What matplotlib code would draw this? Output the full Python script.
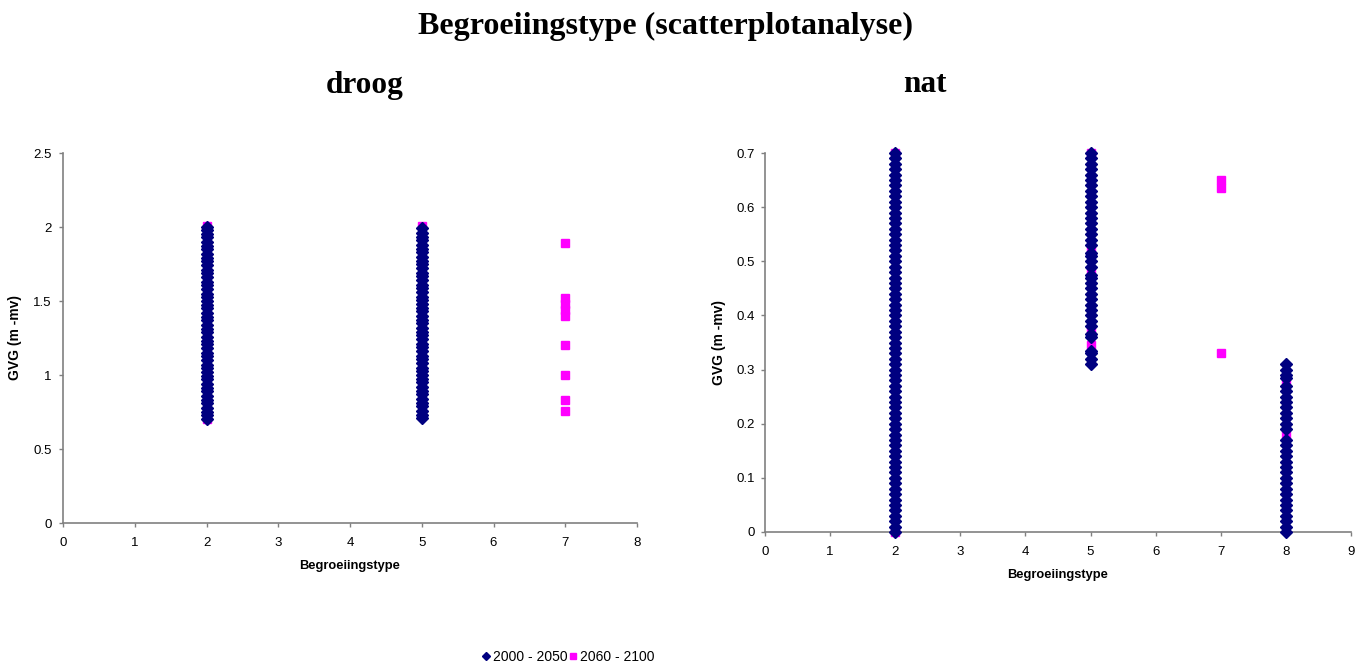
import matplotlib
matplotlib.use("Agg")
import matplotlib.pyplot as plt
from matplotlib.lines import Line2D

# ---------------- data ----------------
series_labels = ["2000 - 2050", "2060 - 2100"]

# droog (dry) - series 2000-2050, GVG values per begroeiingstype
droog_t2_early = [0.70, 0.73, 0.75, 0.78, 0.81, 0.83, 0.86, 0.89, 0.91, 0.94, 0.97, 0.99,
                  1.02, 1.05, 1.07, 1.10, 1.13, 1.15, 1.18, 1.21, 1.23, 1.26, 1.29, 1.31,
                  1.34, 1.37, 1.39, 1.42, 1.45, 1.47, 1.50, 1.53, 1.55, 1.58, 1.61, 1.63,
                  1.66, 1.69, 1.71, 1.74, 1.77, 1.79, 1.82, 1.85, 1.87, 1.90, 1.93, 1.95,
                  1.98, 2.00]
droog_t5_early = [0.71, 0.73, 0.76, 0.79, 0.81, 0.84, 0.87, 0.89, 0.92, 0.95, 0.97, 1.00,
                  1.03, 1.05, 1.08, 1.11, 1.13, 1.16, 1.19, 1.21, 1.24, 1.27, 1.29, 1.32,
                  1.35, 1.37, 1.40, 1.43, 1.45, 1.48, 1.51, 1.53, 1.56, 1.59, 1.61, 1.64,
                  1.67, 1.69, 1.72, 1.75, 1.77, 1.80, 1.83, 1.85, 1.88, 1.91, 1.93, 1.96,
                  1.99]
# droog - series 2060-2100
droog_late_type = [2, 2, 5, 7, 7, 7, 7, 7, 7, 7, 7, 7]
droog_late_gvg = [2.01, 0.70, 2.01, 1.89, 1.52, 1.48, 1.44, 1.40, 1.20, 1.00, 0.83, 0.76]

# nat (wet) - series 2000-2050
nat_t2_early = [0.00, 0.01, 0.02, 0.03, 0.04, 0.05, 0.06, 0.07, 0.08, 0.09, 0.10, 0.11,
                0.12, 0.13, 0.14, 0.15, 0.16, 0.17, 0.18, 0.19, 0.20, 0.21, 0.22, 0.23,
                0.24, 0.25, 0.26, 0.27, 0.28, 0.29, 0.30, 0.31, 0.32, 0.33, 0.34, 0.35,
                0.36, 0.37, 0.38, 0.39, 0.40, 0.41, 0.42, 0.43, 0.44, 0.45, 0.46, 0.47,
                0.48, 0.49, 0.50, 0.51, 0.52, 0.53, 0.54, 0.55, 0.56, 0.57, 0.58, 0.59,
                0.60, 0.61, 0.62, 0.63, 0.64, 0.65, 0.66, 0.67, 0.68, 0.69, 0.70]
nat_t5_early = [0.31, 0.32, 0.33, 0.335, 0.36, 0.365, 0.38, 0.39, 0.40, 0.41, 0.42, 0.43,
                0.44, 0.45, 0.46, 0.47, 0.475, 0.49, 0.50, 0.51, 0.515, 0.53, 0.54, 0.55,
                0.56, 0.57, 0.58, 0.59, 0.60, 0.61, 0.62, 0.63, 0.64, 0.65, 0.66, 0.67,
                0.68, 0.69, 0.70]
nat_t8_early = [0.00, 0.01, 0.02, 0.03, 0.04, 0.05, 0.06, 0.07, 0.08, 0.09, 0.10, 0.11,
                0.12, 0.13, 0.14, 0.15, 0.16, 0.17, 0.19, 0.20, 0.21, 0.22, 0.23, 0.24,
                0.25, 0.26, 0.27, 0.285, 0.29, 0.30, 0.31]
# nat - series 2060-2100
nat_late_type = [2, 2, 5, 5, 5, 5, 5, 7, 7, 7, 8, 8]
nat_late_gvg = [0.70, 0.00, 0.70, 0.525, 0.48, 0.375, 0.345, 0.65, 0.635, 0.33, 0.18, 0.28]

# ---------------- style ----------------
NAVY = "#000080"
MAGENTA = "#FF00FF"
AXCOL = "#808080"
SANS = ["Liberation Sans", "DejaVu Sans"]
SERIF = ["Liberation Serif", "DejaVu Serif"]

fig = plt.figure(figsize=(13.72, 6.70), dpi=100)

fig.text(665 / 1372, 1 - 26 / 670, "Begroeiingstype (scatterplotanalyse)", ha="center",
         va="center", fontsize=23, fontweight="bold", family=SERIF)
fig.text(365 / 1372, 1 - 85 / 670, "droog", ha="center", va="center",
         fontsize=22.5, fontweight="bold", family=SERIF)
fig.text(925 / 1372, 1 - 85 / 670, "nat", ha="center", va="center",
         fontsize=22.5, fontweight="bold", family=SERIF)

ax1 = fig.add_axes([63 / 1372, (670 - 523) / 670, (637 - 63) / 1372, (523 - 153) / 670])
ax2 = fig.add_axes([765 / 1372, (670 - 532) / 670, (1351 - 765) / 1372, (532 - 153) / 670])


def style(ax, xmax, ymax, yticks, ylabels, xlab_y, ypad):
    ax.set_xlim(0, xmax)
    ax.set_ylim(0, ymax)
    ax.set_xticks(range(0, xmax + 1))
    ax.set_yticks(yticks)
    ax.set_yticklabels(ylabels)
    for s in ["top", "right"]:
        ax.spines[s].set_visible(False)
    for s in ["left", "bottom"]:
        ax.spines[s].set_color(AXCOL)
        ax.spines[s].set_linewidth(1.2)
    ax.tick_params(direction="out", length=3, width=1, color=AXCOL, labelsize=9.5)
    ax.tick_params(axis="x", pad=7)
    ax.tick_params(axis="y", pad=ypad)
    for lab in ax.get_xticklabels() + ax.get_yticklabels():
        lab.set_family(SANS)
    ax.set_xlabel("Begroeiingstype", fontsize=9.3, fontweight="bold", family=SANS)
    ax.xaxis.set_label_coords(0.5, xlab_y)
    ax.set_ylabel("GVG (m -mv)", fontsize=10, fontweight="bold", family=SANS, labelpad=8)


# droog
ax1.plot(droog_late_type, droog_late_gvg, ls="none", marker="s", ms=6, color=MAGENTA,
         mec=MAGENTA, zorder=2, clip_on=False)
for t, vals in [(2, droog_t2_early), (5, droog_t5_early)]:
    ax1.plot([t] * len(vals), vals, ls="none", marker="D", ms=6.0, color=NAVY, mec=NAVY,
             zorder=3, clip_on=False)
style(ax1, 8, 2.5, [0, 0.5, 1, 1.5, 2, 2.5], ["0", "0.5", "1", "1.5", "2", "2.5"], -0.10, 5)

# nat
ax2.plot(nat_late_type, nat_late_gvg, ls="none", marker="s", ms=6, color=MAGENTA,
         mec=MAGENTA, zorder=2, clip_on=False)
for t, vals in [(2, nat_t2_early), (5, nat_t5_early), (8, nat_t8_early)]:
    ax2.plot([t] * len(vals), vals, ls="none", marker="D", ms=6.0, color=NAVY, mec=NAVY,
             zorder=3, clip_on=False)
style(ax2, 9, 0.7, [0, 0.1, 0.2, 0.3, 0.4, 0.5, 0.6, 0.7],
      ["0", "0.1", "0.2", "0.3", "0.4", "0.5", "0.6", "0.7"], -0.098, 4)

# legend
handles = [Line2D([], [], ls="none", marker="D", ms=4.5, color=NAVY),
           Line2D([], [], ls="none", marker="s", ms=5, color=MAGENTA)]
fig.legend(handles, series_labels, loc="center", bbox_to_anchor=(568 / 1372, 1 - 657 / 670),
           ncol=2, frameon=False, prop={"family": SANS, "size": 10},
           handlelength=0.6, handletextpad=0.2, columnspacing=0.1, borderpad=0)

fig.savefig("out.png", dpi=100)
